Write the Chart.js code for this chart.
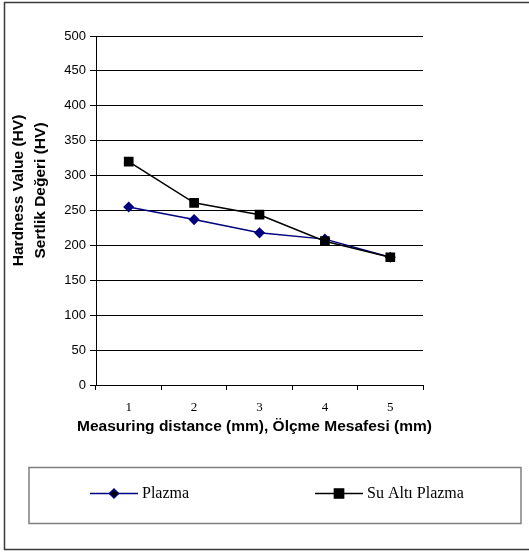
<!DOCTYPE html>
<html>
<head>
<meta charset="utf-8">
<title>Hardness Value</title>
<script src="https://cdn.jsdelivr.net/npm/chart.js@4/dist/chart.umd.min.js"></script>
<style>
    body { margin: 0; background: #ffffff; }
    #hardnessChart { display: block; }
</style>
</head>
<body>
<canvas id="hardnessChart" width="529" height="552"></canvas>
<script>
// Data
const distances = ['1', '2', '3', '4', '5'];
const plazmaValues = [255, 237, 218, 209, 183];
const suAltiValues = [320, 261, 244, 206, 183];
const seriesNames = ['Plazma', 'Su Altı Plazma'];
const yTitleLines = ['Hardness Value (HV)', 'Sertlik Değeri (HV)'];
const xTitle = 'Measuring distance (mm), Ölçme Mesafesi (mm)';

const SANS = '"Liberation Sans", Arial, sans-serif';
const SERIF = '"Liberation Serif", "Times New Roman", serif';

// frame, axis titles and the boxed legend underneath
const decorations = {
    id: 'decorations',
    afterDraw(chart) {
        const ctx = chart.ctx;
        const area = chart.chartArea;
        ctx.save();

        // outer frame (right edge falls outside the picture)
        ctx.strokeStyle = '#3a3a3a';
        ctx.lineWidth = 1.5;
        ctx.strokeRect(4.5, 2.5, 540, 547);

        // y title (two lines, rotated)
        ctx.fillStyle = '#000000';
        ctx.font = 'bold 15.5px ' + SANS;
        ctx.textAlign = 'center';
        ctx.textBaseline = 'middle';
        const midY = (area.top + area.bottom) / 2 - 20;
        [19, 41].forEach((x, i) => {
            ctx.save();
            ctx.translate(x, midY);
            ctx.rotate(-Math.PI / 2);
            ctx.fillText(yTitleLines[i], 0, 0);
            ctx.restore();
        });

        // x title
        ctx.fillText(xTitle, (area.left + area.right) / 2 - 5, 427);

        // legend box
        ctx.strokeStyle = '#808080';
        ctx.lineWidth = 1.5;
        ctx.strokeRect(29, 467.5, 492, 56);

        const legendY = 493.5;
        const items = [
            { x: 90, ds: chart.data.datasets[0] },
            { x: 315, ds: chart.data.datasets[1] }
        ];
        items.forEach(item => {
            const ds = item.ds;
            ctx.strokeStyle = ds.borderColor;
            ctx.lineWidth = 1.5;
            ctx.beginPath();
            ctx.moveTo(item.x, legendY);
            ctx.lineTo(item.x + 48, legendY);
            ctx.stroke();
            Chart.helpers.drawPoint(ctx, {
                pointStyle: ds.pointStyle,
                radius: ds.pointStyle === 'rect' ? 6.5 : 4.5,
                rotation: 0,
                borderWidth: 1
            }, item.x + 24, legendY);
            ctx.fillStyle = '#000000';
            ctx.font = '16px ' + SERIF;
            ctx.textAlign = 'left';
            ctx.fillText(ds.label, item.x + 52, legendY);
        });

        ctx.restore();
    }
};

document.addEventListener('DOMContentLoaded', () => {
    const ctx = document.getElementById('hardnessChart').getContext('2d');

    new Chart(ctx, {
        type: 'line',
        data: {
            labels: distances,
            datasets: [{
                label: seriesNames[0],
                data: plazmaValues,
                borderColor: '#000080',
                backgroundColor: '#000080',
                pointBackgroundColor: '#000080',
                pointBorderColor: '#000080',
                pointStyle: 'rectRot',
                pointRadius: 4.5,
                borderWidth: 1.5,
                tension: 0,
                order: 1
            }, {
                label: seriesNames[1],
                data: suAltiValues,
                borderColor: '#000000',
                backgroundColor: '#000000',
                pointBackgroundColor: '#000000',
                pointBorderColor: '#000000',
                pointStyle: 'rect',
                pointRadius: 5.8,
                borderWidth: 1.5,
                tension: 0,
                order: 0
            }]
        },
        options: {
            responsive: false,
            animation: false,
            layout: {
                padding: { left: 0, top: 36, right: 106, bottom: 137 }
            },
            plugins: {
                legend: { display: false },
                tooltip: { enabled: false }
            },
            scales: {
                x: {
                    offset: true,
                    afterFit: scale => { scale.height = 30; },
                    grid: {
                        offset: true,
                        drawOnChartArea: false,
                        color: '#000000',
                        tickLength: 5
                    },
                    border: { color: '#000000', width: 1 },
                    ticks: {
                        color: '#000000',
                        padding: 10,
                        font: { family: SERIF, size: 13 }
                    }
                },
                y: {
                    min: 0,
                    max: 500,
                    afterFit: scale => { scale.width = 96; },
                    grid: {
                        color: '#000000',
                        lineWidth: 1,
                        tickLength: 6
                    },
                    border: { color: '#000000', width: 1 },
                    ticks: {
                        stepSize: 50,
                        color: '#000000',
                        padding: 4,
                        font: { family: SANS, size: 13 }
                    }
                }
            }
        },
        plugins: [decorations]
    });
});
</script>
</body>
</html>
